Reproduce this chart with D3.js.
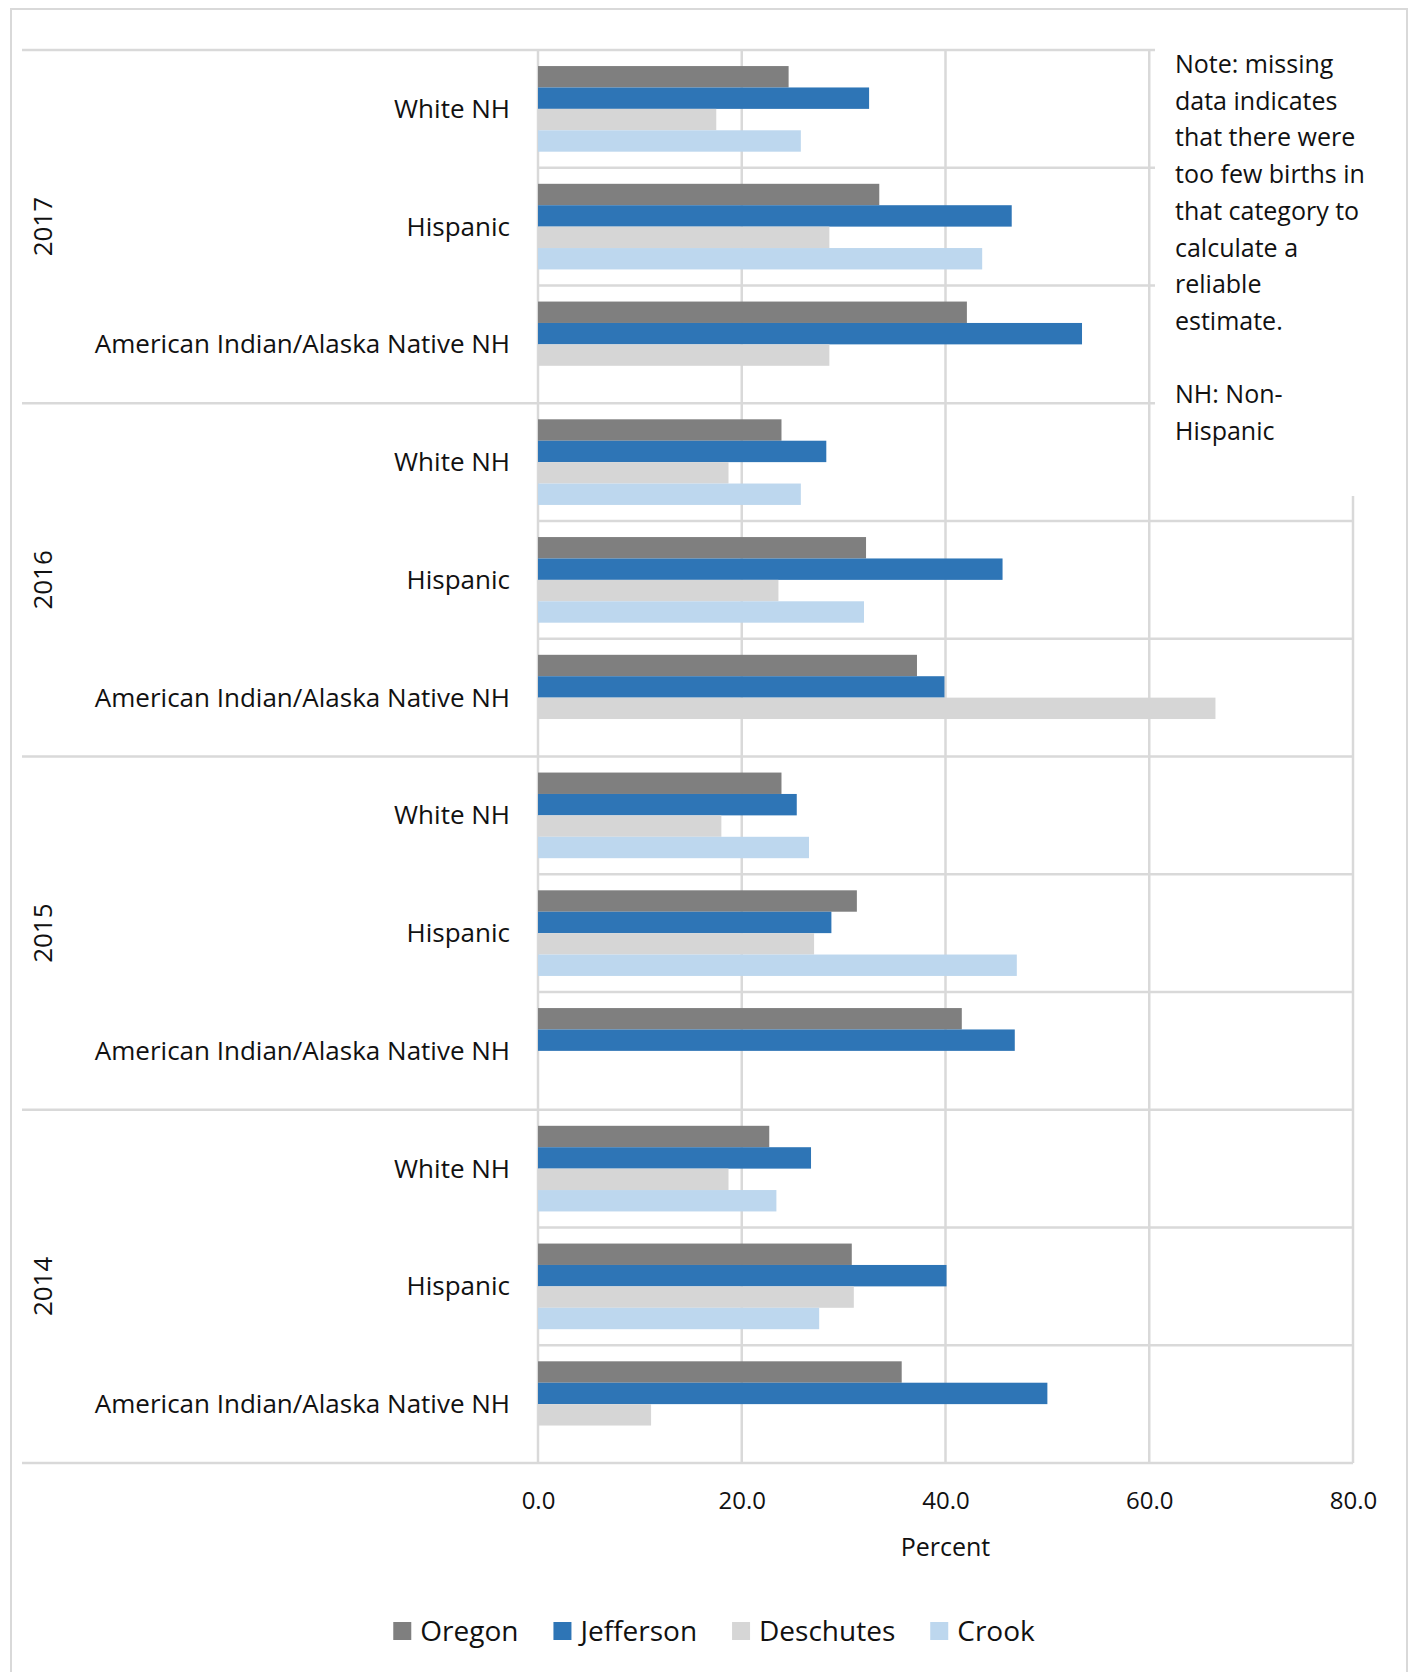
<!DOCTYPE html>
<html>
<head>
<meta charset="utf-8">
<script src="https://cdn.jsdelivr.net/npm/d3@7"></script>
<style>
  body { margin: 0; background: #fff; }
  svg text { font-family: "Open Sans", Lato, sans-serif; fill: #111; }
</style>
</head>
<body>
<div id="chart"></div>
<script>
// chart data, display order top to bottom
const years = ["2017", "2016", "2015", "2014"];
const groups = ["White NH", "Hispanic", "American Indian/Alaska Native NH"];
const seriesNames = ["Oregon", "Jefferson", "Deschutes", "Crook"];
const seriesColors = ["#7f7f7f", "#2e75b6", "#d6d6d6", "#bdd7ee"];

// one value per row: year x group (null = too few births)
const oregon    = [24.6, 33.5, 42.1, 23.9, 32.2, 37.2, 23.9, 31.3, 41.6, 22.7, 30.8, 35.7];
const jefferson = [32.5, 46.5, 53.4, 28.3, 45.6, 39.9, 25.4, 28.8, 46.8, 26.8, 40.1, 50.0];
const deschutes = [17.5, 28.6, 28.6, 18.7, 23.6, 66.5, 18.0, 27.1, null, 18.7, 31.0, 11.1];
const crook     = [25.8, 43.6, null, 25.8, 32.0, null, 26.6, 47.0, null, 23.4, 27.6, null];

const xTicks = [0, 20, 40, 60, 80];
const noteLines = ["Note: missing", "data indicates", "that there were", "too few births in",
  "that category to", "calculate a", "reliable", "estimate.", "", "NH: Non-", "Hispanic"];

const seriesValues = [oregon, jefferson, deschutes, crook];

// build rows
const rows = [];
years.forEach(y => groups.forEach(g => rows.push({ key: y + "|" + g, year: y, group: g })));

const W = 1413, H = 1672;
const gridColor = "#d9d9d9";

const svg = d3.select("#chart").append("svg")
  .attr("width", W).attr("height", H);

// outer chart border
svg.append("rect")
  .attr("x", 11).attr("y", 9).attr("width", 1396).attr("height", 1670)
  .attr("fill", "none").attr("stroke", gridColor).attr("stroke-width", 2);

const x = d3.scaleLinear().domain([0, 80]).range([538, 1353]);
const y = d3.scaleBand().domain(rows.map(r => r.key)).range([50, 1463]).paddingInner(0).paddingOuter(0);
const ySeries = d3.scaleBand().domain(seriesNames).range([0, y.bandwidth()]).paddingInner(0).paddingOuter(0.75);

const grid = svg.append("g");

// vertical gridlines
grid.selectAll("line.v")
  .data(xTicks)
  .enter().append("line")
  .attr("x1", d => x(d)).attr("x2", d => x(d))
  .attr("y1", d => d === 80 ? 496 : y.range()[0])
  .attr("y2", y.range()[1])
  .attr("stroke", gridColor).attr("stroke-width", 2.5);

// horizontal separators: row boundaries
const boundaries = rows.map((r, i) => ({ pos: y(r.key), yearStart: i % groups.length === 0 }));
boundaries.push({ pos: y.range()[1], yearStart: true });
grid.selectAll("line.h")
  .data(boundaries)
  .enter().append("line")
  .attr("x1", d => d.yearStart ? 22 : x(0))
  .attr("x2", x(80))
  .attr("y1", d => d.pos).attr("y2", d => d.pos)
  .attr("stroke", gridColor).attr("stroke-width", 2.5);

// bars
const barData = [];
rows.forEach((r, i) => {
  seriesNames.forEach((s, j) => {
    const v = seriesValues[j][i];
    if (v != null) barData.push({ row: r.key, series: s, value: v, color: seriesColors[j] });
  });
});

svg.append("g").selectAll("rect")
  .data(barData)
  .enter().append("rect")
  .attr("x", x(0))
  .attr("y", d => y(d.row) + ySeries(d.series))
  .attr("width", d => x(d.value) - x(0))
  .attr("height", ySeries.bandwidth())
  .attr("fill", d => d.color);

// note box (covers the grid on the upper right)
svg.append("rect")
  .attr("x", 1155).attr("y", 30).attr("width", 240).attr("height", 466)
  .attr("fill", "#fff");

svg.append("g").selectAll("text")
  .data(noteLines)
  .enter().append("text")
  .attr("x", 1175)
  .attr("y", (d, i) => 73 + i * 36.7)
  .attr("font-size", 25)
  .text(d => d);

// category labels
svg.append("g").selectAll("text")
  .data(rows)
  .enter().append("text")
  .attr("x", 510)
  .attr("y", d => y(d.key) + y.bandwidth() / 2)
  .attr("dy", "0.35em")
  .attr("text-anchor", "end")
  .attr("font-size", 26)
  .text(d => d.group);

// year labels (rotated)
svg.append("g").selectAll("text")
  .data(years)
  .enter().append("text")
  .attr("transform", d => {
    const cy = y(d + "|" + groups[0]) + y.bandwidth() * groups.length / 2;
    return `translate(43,${cy}) rotate(-90)`;
  })
  .attr("dy", "0.35em")
  .attr("text-anchor", "middle")
  .attr("font-size", 26)
  .text(d => d);

// x axis
const xAxis = svg.append("g")
  .attr("transform", `translate(0,${y.range()[1]})`)
  .call(d3.axisBottom(x).tickValues(xTicks).tickFormat(d3.format(".1f")).tickSize(0).tickPadding(29));
xAxis.select(".domain").remove();
xAxis.selectAll("text")
  .attr("font-size", 24)
  .attr("font-family", "'Open Sans', sans-serif")
  .attr("fill", "#111");

svg.append("text")
  .attr("x", (x(0) + x(80)) / 2)
  .attr("y", 1556)
  .attr("text-anchor", "middle")
  .attr("font-size", 25)
  .text("Percent");

// legend
const legend = svg.append("g");
let lx = 0;
seriesNames.forEach((s, i) => {
  const item = legend.append("g").attr("transform", `translate(${lx},0)`);
  item.append("rect").attr("x", 0).attr("y", -9).attr("width", 18).attr("height", 18).attr("fill", seriesColors[i]);
  const t = item.append("text").attr("x", 27).attr("dy", "0.35em").attr("font-size", 28).text(s);
  lx += 27 + t.node().getComputedTextLength() + 35;
});
const legendWidth = lx - 35;
legend.attr("transform", `translate(${714 - legendWidth / 2},1631)`);
</script>
</body>
</html>
